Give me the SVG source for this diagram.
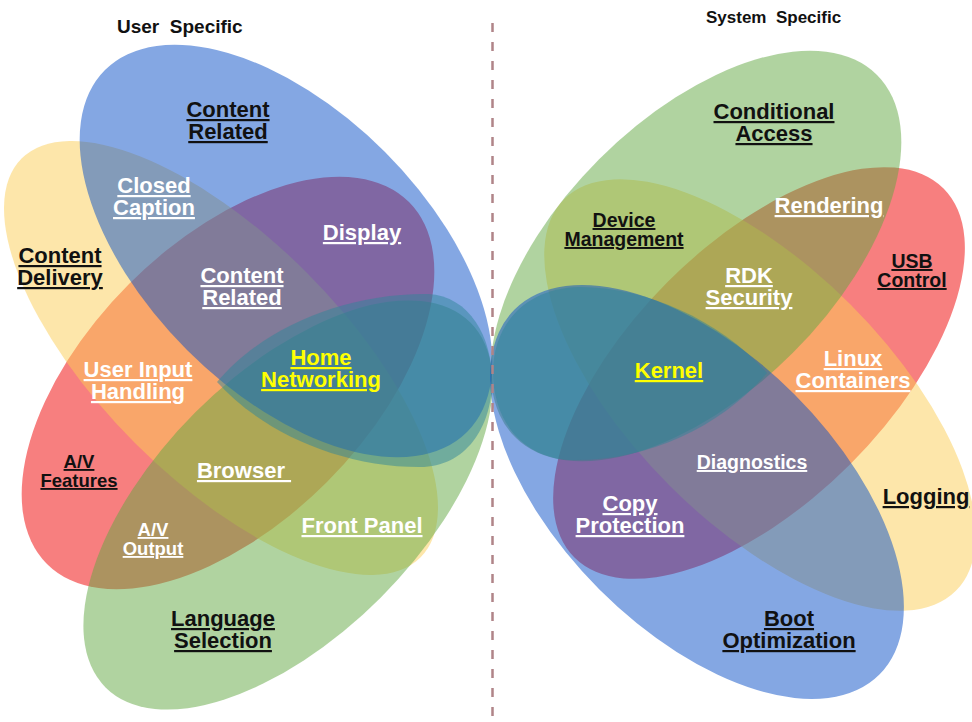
<svg xmlns="http://www.w3.org/2000/svg" width="972" height="722" viewBox="0 0 972 722">
<style>
.set{fill-opacity:0.5;stroke:none}
.red{fill:#F00000}
.yel{fill:#FBCD55}
.grn{fill:#61A741}
.blu{fill:#094FC7}
.tea{fill:#308599}
.t{font-family:"Liberation Sans",Arial,sans-serif;font-weight:bold;font-size:22px;text-anchor:middle;text-decoration:underline}
.s{font-size:18.5px}
.m{font-size:19.5px}
.w{fill:#FFFFFF}
.k{fill:#111111}
.y{fill:#FFFF00}
.title{font-family:"Liberation Sans",Arial,sans-serif;font-weight:bold;font-size:17px;fill:#111111;white-space:pre}
</style>
<rect width="972" height="722" fill="#FFFFFF"/>
<g id="left-sets">
<ellipse class="set red" cx="228" cy="383" rx="256" ry="140" transform="rotate(-45 228 383)"/>
<ellipse class="set yel" cx="221" cy="358" rx="282" ry="121" transform="rotate(45 221 358)"/>
<ellipse class="set grn" cx="288" cy="505" rx="258" ry="131" transform="rotate(-45 288 505)"/>
<ellipse class="set blu" cx="286" cy="251" rx="256" ry="140" transform="rotate(45 286 251)"/>
<path class="set tea" d="M217,382 C262,328 345,293 428,294 C470,296 492,338 492,380 C492,428 465,467 420,467 C340,467 262,432 217,382 Z"/>
</g>
<g id="right-sets">
<ellipse class="set red" cx="759" cy="373" rx="261" ry="129" transform="rotate(-45 759 373)"/>
<ellipse class="set yel" cx="760" cy="395" rx="277" ry="128" transform="rotate(45 760 395)"/>
<ellipse class="set grn" cx="696" cy="256" rx="256" ry="137" transform="rotate(-45 696 256)"/>
<ellipse class="set blu" cx="697" cy="492" rx="258" ry="138" transform="rotate(45 697 492)"/>
<path class="set tea" d="M767,373 C722,322 648,287 580,287 C522,288 493,328 493,372 C493,420 522,460 575,460 C652,460 722,425 767,373 Z"/>
</g>
<g id="connectors">
<line x1="492.5" y1="23" x2="492.5" y2="722" stroke="#B08488" stroke-width="2.5" stroke-dasharray="9 10"/>
</g>
<g id="title-user"><text class="title" x="117" y="33" style="font-size:19px">User  Specific</text></g>
<g id="title-system"><text class="title" x="706" y="23">System  Specific</text></g>
<g id="content-related-top"><text class="t k" x="228" y="117">Content<tspan x="228" y="139">Related</tspan></text></g>
<g id="closed-caption"><text class="t w" x="154" y="193">Closed<tspan x="154" y="215">Caption</tspan></text></g>
<g id="content-delivery"><text class="t k" x="60" y="263">Content<tspan x="60" y="285">Delivery</tspan></text></g>
<g id="display"><text class="t w" x="362" y="240">Display</text></g>
<g id="content-related-mid"><text class="t w" x="242" y="283">Content<tspan x="242" y="305">Related</tspan></text></g>
<g id="home-networking"><text class="t y" x="321" y="365">Home<tspan x="321" y="387">Networking</tspan></text></g>
<g id="user-input-handling"><text class="t w" x="138" y="377">User Input<tspan x="138" y="399">Handling</tspan></text></g>
<g id="av-features"><text class="t s k" x="79" y="468">A/V<tspan x="79" y="487">Features</tspan></text></g>
<g id="browser"><text class="t w" x="244" y="478" style="white-space:pre">Browser </text></g>
<g id="av-output"><text class="t s w" x="153" y="536">A/V<tspan x="153" y="555">Output</tspan></text></g>
<g id="front-panel"><text class="t w" x="362" y="533">Front Panel</text></g>
<g id="language-selection"><text class="t k" x="223" y="626">Language<tspan x="223" y="648">Selection</tspan></text></g>
<g id="conditional-access"><text class="t k" x="774" y="119">Conditional<tspan x="774" y="141">Access</tspan></text></g>
<g id="device-management"><text class="t m k" x="624" y="227">Device<tspan x="624" y="246">Management</tspan></text></g>
<g id="rendering"><text class="t w" x="829" y="213">Rendering</text></g>
<g id="usb-control"><text class="t m k" x="912" y="268">USB<tspan x="912" y="287">Control</tspan></text></g>
<g id="rdk-security"><text class="t w" x="749" y="283">RDK<tspan x="749" y="305">Security</tspan></text></g>
<g id="kernel"><text class="t y" x="669" y="378">Kernel</text></g>
<g id="linux-containers"><text class="t w" x="853" y="366">Linux<tspan x="853" y="388">Containers</tspan></text></g>
<g id="diagnostics"><text class="t m w" x="752" y="469">Diagnostics</text></g>
<g id="copy-protection"><text class="t w" x="630" y="511">Copy<tspan x="630" y="533">Protection</tspan></text></g>
<g id="logging"><text class="t k" x="926" y="504">Logging</text></g>
<g id="boot-optimization"><text class="t k" x="789" y="626">Boot<tspan x="789" y="648">Optimization</tspan></text></g>
</svg>
